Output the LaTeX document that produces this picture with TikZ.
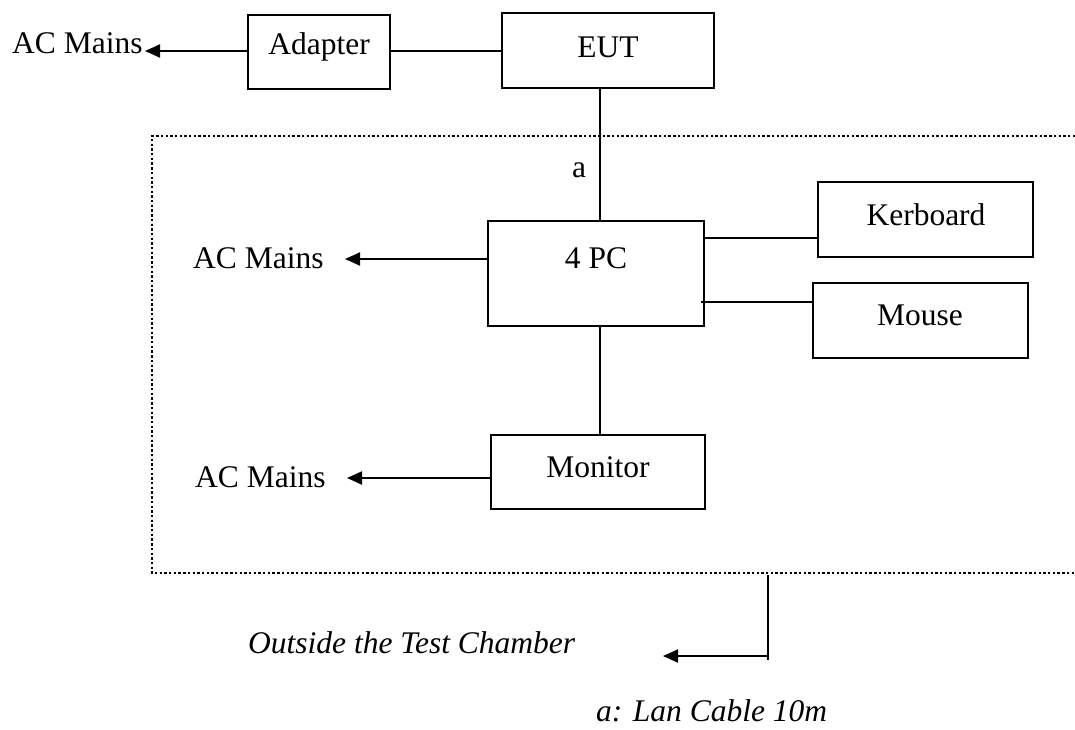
\documentclass[tikz,border=0pt]{standalone}
\usepackage{fontspec}
\setmainfont{Liberation Serif}
\usetikzlibrary{arrows.meta}
\tikzset{
  box/.style={draw, line width=2pt, inner sep=0pt},
  txt/.style={inner sep=0pt, font=\fontsize{31.5}{36}\selectfont},
  itxt/.style={inner sep=0pt, font=\fontsize{31.5}{36}\selectfont\itshape},
  wire/.style={line width=2pt},
  arr/.style={line width=2pt, -{Triangle[length=15pt,width=13pt]}},
  chamber/.style={line width=2.2pt, dash pattern=on 2.4pt off 2.3pt},
}
\begin{document}
\begin{tikzpicture}[x=1pt,y=-1pt]
\useasboundingbox (0,0) rectangle (1075,729);
% boxes
\node[box, minimum width=142pt, minimum height=74pt] (adapter) at (319,52) {};
\node[txt] (adaptert) at (319,47) {Adapter};
\node[box, minimum width=212pt, minimum height=75pt] (eut) at (608,50.5) {};
\node[txt] (eutt) at (608,47) {EUT};
\node[box, minimum width=216pt, minimum height=105pt] (pc) at (596,273.5) {};
\node[txt] (pct) at (596,258) {4 PC};
\node[box, minimum width=215pt, minimum height=75pt] (kb) at (925.5,219.5) {};
\node[txt] (kbt) at (926,215) {Kerboard};
\node[box, minimum width=215pt, minimum height=75pt] (mouse) at (920.5,320.5) {};
\node[txt] (mouset) at (920,315) {Mouse};
\node[box, minimum width=214pt, minimum height=74pt] (mon) at (598,472) {};
\node[txt] (mont) at (598,467) {Monitor};
% texts
\node[txt, anchor=base west] (ac1) at (12,53) {AC Mains};
\node[txt, anchor=base west] (ac2) at (193,268) {AC Mains};
\node[txt, anchor=base west] (ac3) at (195,487) {AC Mains};
\node[txt, anchor=base] (alab) at (579,177) {a};
\node[itxt, anchor=base west] (outside) at (248,653) {Outside the Test Chamber};
\node[itxt, anchor=base west] (lan) at (596,721) {a: Lan Cable 10m};
% helper coordinates
\coordinate (lanx) at (600,0);
\coordinate (c1) at (768,575);
\coordinate (c2) at (768,660);
\coordinate (c3) at (768,656);
\coordinate (c4) at (663,656);
% chamber outline
\draw[chamber] (1075,136) -- (152,136) -- (152,573) -- (1075,573);
% connectors
\draw[arr] (adapter.west |- 0,51) -- (145,51);
\draw[wire] (adapter.east |- 0,51) -- (eut.west |- 0,51);
\draw[wire] (eut.south -| lanx) -- (pc.north -| lanx);
\draw[arr] (pc.west |- 0,259) -- (345,259);
\draw[wire] (pc.east |- 0,238) -- (kb.west |- 0,238);
\draw[wire] (701,302) -- (mouse.west |- 0,302);
\draw[wire] (pc.south -| lanx) -- (mon.north -| lanx);
\draw[arr] (mon.west |- 0,478) -- (347,478);
\draw[line width=1.6pt] (c1) -- (c2);
\draw[arr] (c3) -- (c4);
\end{tikzpicture}
\end{document}
